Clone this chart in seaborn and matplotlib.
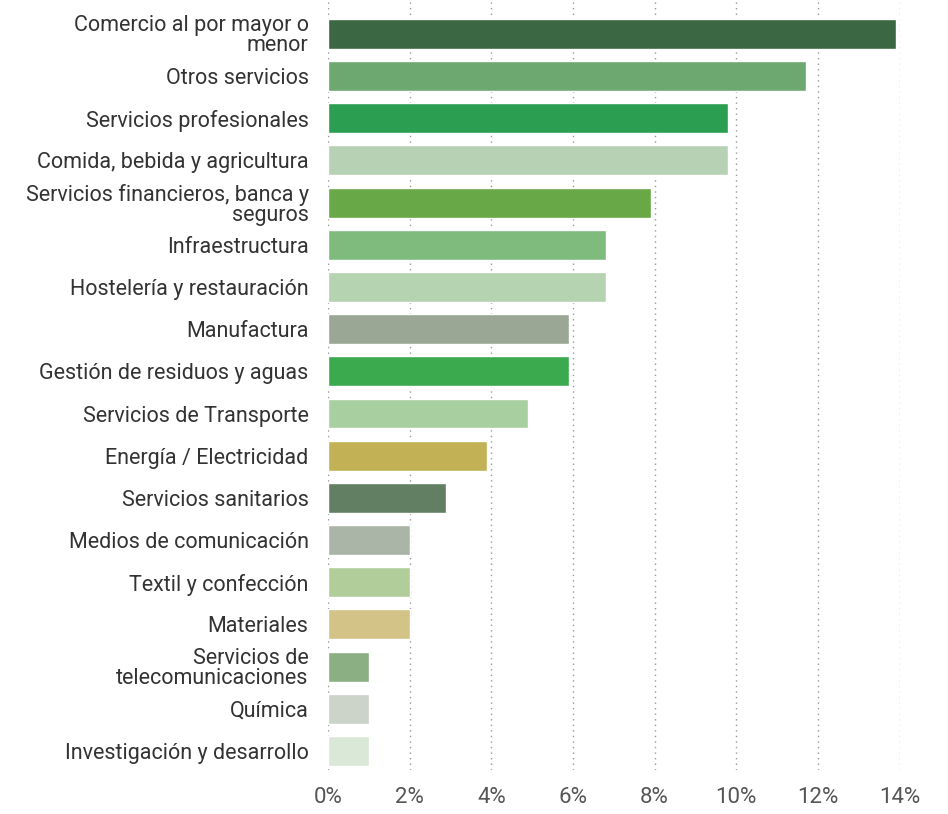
import pandas as pd
import seaborn as sns
import matplotlib.pyplot as plt
from matplotlib.ticker import FuncFormatter

# Sectors (top to bottom) and their share in %
sectores = [
    'Comercio al por mayor o\nmenor',
    'Otros servicios',
    'Servicios profesionales',
    'Comida, bebida y agricultura',
    'Servicios financieros, banca y\nseguros',
    'Infraestructura',
    'Hostelería y restauración',
    'Manufactura',
    'Gestión de residuos y aguas',
    'Servicios de Transporte',
    'Energía / Electricidad',
    'Servicios sanitarios',
    'Medios de comunicación',
    'Textil y confección',
    'Materiales',
    'Servicios de\ntelecomunicaciones',
    'Química',
    'Investigación y desarrollo',
]
porcentajes = [13.9, 11.7, 9.8, 9.8, 7.9, 6.8, 6.8, 5.9, 5.9, 4.9, 3.9, 2.9,
               2.0, 2.0, 2.0, 1.0, 1.0, 1.0]
colores = ['#3B6843', '#6DA870', '#2C9E51', '#B6D1B3', '#68A846', '#80BB7E',
           '#B5D3B0', '#9AA795', '#3BAA4F', '#A8CFA0', '#C2B255', '#637F63',
           '#ABB5A7', '#B1CE9A', '#D3C387', '#8BAE83', '#CCD3C9', '#DAE8D7']
ticks_x = [0, 2, 4, 6, 8, 10, 12, 14]

df = pd.DataFrame({'sector': sectores, 'pct': porcentajes})

sns.set_style('white')
plt.rcParams['font.family'] = ['Roboto', 'DejaVu Sans']

fig = plt.figure(figsize=(9.48, 8.14), dpi=100)
ax = fig.add_axes([0.346, 0.054, 0.603, 0.946])

sns.barplot(data=df, x='pct', y='sector', hue='sector', palette=colores,
            legend=False, width=0.71, orient='h', ax=ax, saturation=1)

ax.set_xlim(0, 14)
ax.set_ylim(17.45, -0.8)
ax.set_xticks(ticks_x)
ax.xaxis.set_major_formatter(FuncFormatter(lambda v, p: f'{v:.0f}%'))
ax.grid(axis='x', color='#999999', linestyle=(0, (1, 3)), linewidth=1)
ax.set_axisbelow(True)
for s in ax.spines.values():
    s.set_visible(False)
ax.set_xlabel('')
ax.set_ylabel('')
ax.tick_params(axis='y', length=0, pad=14, labelsize=15.5, labelcolor='#333333')
ax.tick_params(axis='x', length=0, pad=12, labelsize=16, labelcolor='#555555')
for lab in ax.get_yticklabels():
    lab.set_linespacing(0.95)

fig.savefig('out.png', dpi=100)
